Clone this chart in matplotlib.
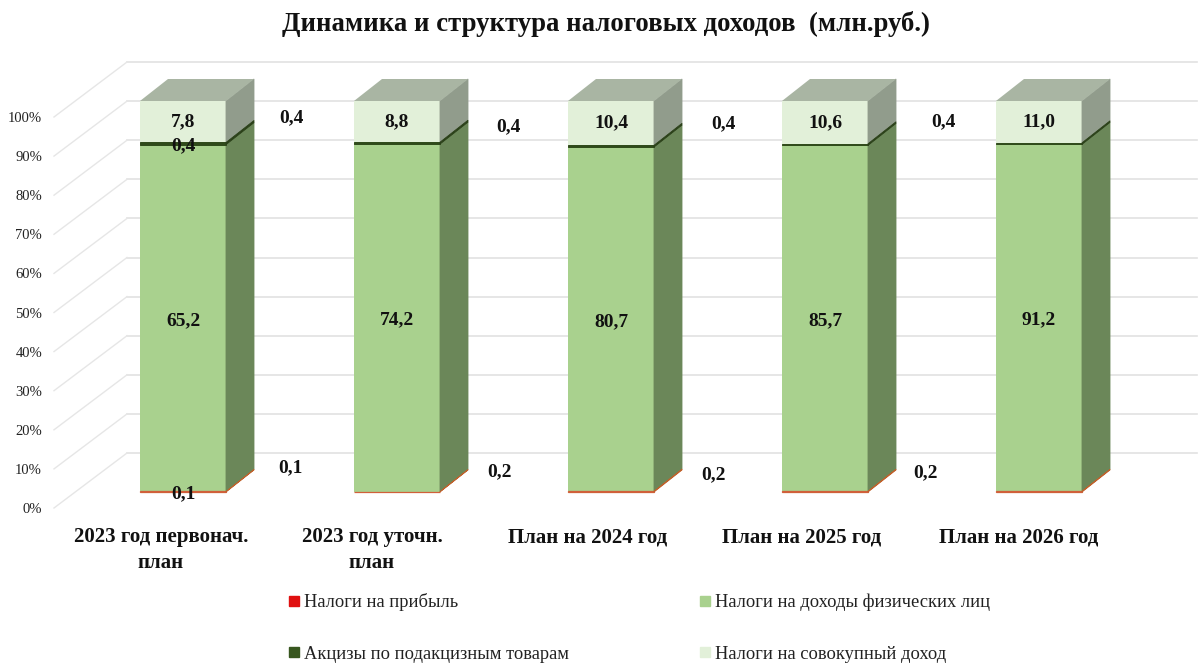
import numpy as np
import matplotlib
matplotlib.use('Agg')
import matplotlib.pyplot as plt
from matplotlib.patches import Patch

plt.rcParams['font.family'] = ['Liberation Serif', 'DejaVu Serif']

categories = ['2023 год первонач.\nплан', '2023 год уточн.\nплан', 'План на 2024 год',
              'План на 2025 год', 'План на 2026 год']
profit = np.array([0.1, 0.1, 0.2, 0.2, 0.2])
ndfl = np.array([65.2, 74.2, 80.7, 85.7, 91.2])
excise = np.array([0.4, 0.4, 0.4, 0.4, 0.4])
total_income = np.array([7.8, 8.8, 10.4, 10.6, 11.0])
# legend fills column by column
legend_names = ['Налоги на прибыль', 'Акцизы по подакцизным товарам',
                'Налоги на доходы физических лиц', 'Налоги на совокупный доход']
ticks = np.arange(0, 101, 10)

# stack order: profit, ndfl, excise, total
front = ['#d0603a', '#a9d18e', '#2f4a1a', '#e2f0d9']
side = ['#c0602a', '#6b8759', '#2a4018', '#919c8c']
edge = [0.9, 0, 0.7, 0]
top_face = '#a9b5a3'
legend_colors = ['#e01010', '#38571f', '#a9d18e', '#e2f0d9']

W, H = 1200, 670
X0, PX_X = 183, 214      # pixel of first bar centre, pixels per category
Y0, PX_Y = 492, 3.91     # pixel of 0 %, pixels per percent
BAR_W = 86 / PX_X
DX, DY = 28 / PX_X, 22 / PX_Y   # bar depth

fig = plt.figure(figsize=(12, 6.7), dpi=100)
ax = fig.add_axes([0, 0, 1, 1])
ax.set_xlim(-X0 / PX_X, (W - X0) / PX_X)
ax.set_ylim((Y0 - H) / PX_Y, Y0 / PX_Y)
ax.axis('off')

# back wall and left wall grid
wall_x = (127 - X0) / PX_X
wall_left = (54 - X0) / PX_X
wall_right = (1197 - X0) / PX_X
for t in ticks:
    ax.plot([wall_x, wall_right], [t + 9.97, t + 9.97], color='#e2e2e2', lw=1.2, zorder=1)
    ax.plot([wall_left, wall_x], [t - 4.09, t + 9.97], color='#e6e6e6', lw=1.0, zorder=1)
    ax.text(42 / PX_X - X0 / PX_X, t - 4.5, f'{t}%', ha='right', va='center',
            fontsize=10.5, color='#222222')

x = np.arange(len(categories))
shares = np.array([profit, ndfl, excise, total_income], dtype=float)
shares = shares / shares.sum(axis=0) * 100
bottoms = np.vstack([np.zeros(len(x)), np.cumsum(shares, axis=0)[:-1]])

for s in range(4):
    ax.bar(x, shares[s], BAR_W, bottom=bottoms[s], color=front[s], edgecolor=front[s],
           linewidth=edge[s], zorder=3 + (edge[s] > 0) * 0.5)
    for i in x:
        r = i + BAR_W / 2
        b, t = bottoms[s][i], bottoms[s][i] + shares[s][i]
        ax.fill([r, r + DX, r + DX, r], [b, b + DY, t + DY, t], color=side[s], lw=0.6,
                zorder=3 + (edge[s] > 0) * 0.5)

for i in x:
    l, r = i - BAR_W / 2, i + BAR_W / 2
    ax.fill([l, l + DX, r + DX, r], [100, 100 + DY, 100 + DY, 100], color=top_face, lw=0, zorder=3)

label_font = dict(fontsize=14, fontweight='bold', color='#111111', ha='center', va='center', zorder=5)


def fmt(v):
    return f'{v:.1f}'.replace('.', ',')


for i in x:
    ax.text(i, bottoms[1][i] + shares[1][i] / 2 - 0.6, fmt(ndfl[i]), **label_font)
    ax.text(i, bottoms[3][i] + shares[3][i] / 2, fmt(total_income[i]), **label_font)

# small series: labels were dragged aside in the original
profit_off = [(0, -2), (-107, 24), (-111, 20), (-111, 17), (-114, 19)]
excise_off = [(0, -2), (-106, 25), (-103, 19), (-102, 21), (-96, 22)]
for i in x:
    ax.annotate(fmt(profit[i]), (i, 0), xytext=profit_off[i], textcoords='offset pixels', **label_font)
    ax.annotate(fmt(excise[i]), (i, bottoms[2][i] + shares[2][i] / 2), xytext=excise_off[i],
                textcoords='offset pixels', **label_font)

cat_shift = [-22, -25, -23, -23, -20]
for i, name in zip(x, categories):
    ax.text(i + cat_shift[i] / PX_X, (Y0 - 527) / PX_Y, name, ha='center', va='top',
            fontsize=15, fontweight='bold', linespacing=1.4, color='#111111')

ax.text((606 - X0) / PX_X, (Y0 - 24) / PX_Y, 'Динамика и структура налоговых доходов  (млн.руб.)',
        ha='center', va='center', fontsize=19.3, fontweight='bold', color='#111111')

handles = [Patch(color=c) for c in legend_colors]
fig.legend(handles, legend_names, ncol=2, frameon=False, fontsize=13.35,
           loc='lower left', bbox_to_anchor=(0.2272, -0.014), handlelength=0.5, handleheight=0.5,
           handletextpad=0.27, columnspacing=7.1, labelspacing=1.85, labelcolor='#222222')

fig.savefig('out.png', dpi=100)
